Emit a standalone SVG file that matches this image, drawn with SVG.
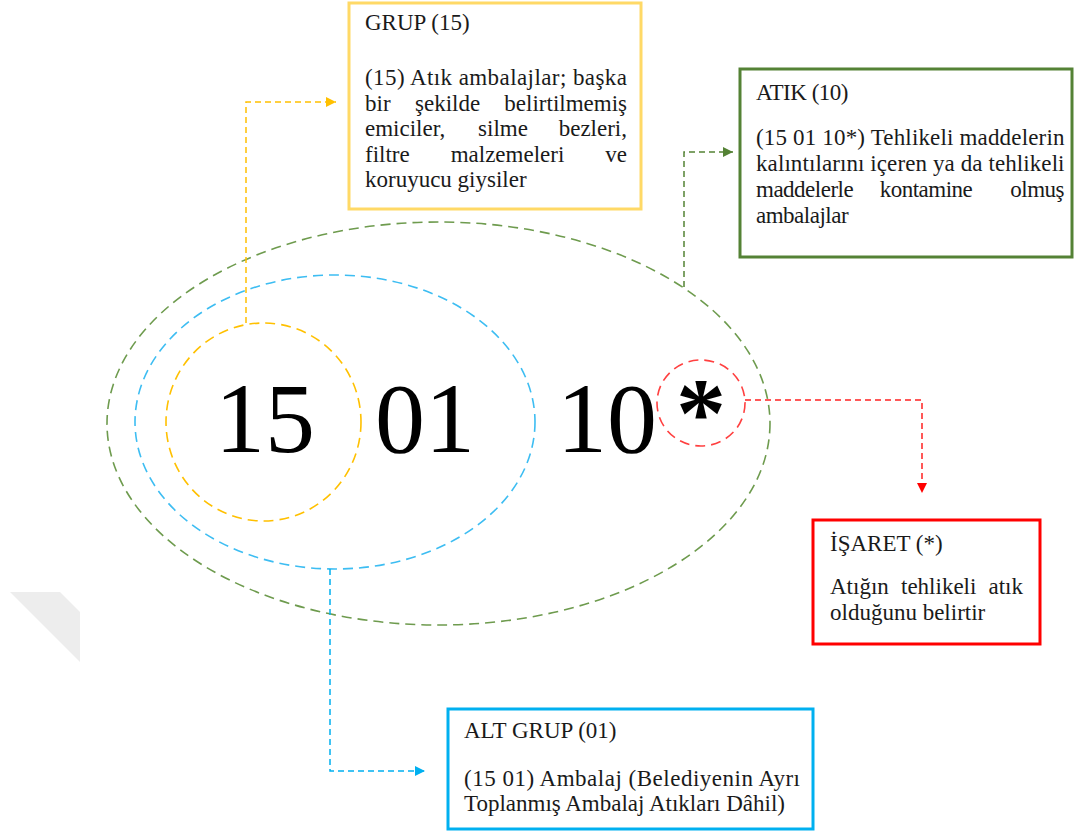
<svg xmlns="http://www.w3.org/2000/svg" width="1076" height="834" viewBox="0 0 1076 834">
<style>
  .t { font-family: "Liberation Serif", "Times New Roman", serif; font-size: 23px; fill: #1a1a1a; }
  .c { letter-spacing: -0.5px; }
  .num { font-family: "Liberation Serif", "Times New Roman", serif; font-size: 100px; fill: #000; text-anchor: middle; }
  .box { fill: #fff; }
  .ell { fill: none; stroke-width: 1.6; stroke-dasharray: 10 6; }
  .con { fill: none; stroke-width: 1.5; stroke-dasharray: 6 4; }
</style>
<defs>
  <marker id="aY" markerWidth="10" markerHeight="10" refX="10" refY="5" orient="auto" markerUnits="userSpaceOnUse"><path d="M0,0 L10,5 L0,10 Z" fill="#FFC000"/></marker>
  <marker id="aG" markerWidth="10" markerHeight="10" refX="10" refY="5" orient="auto" markerUnits="userSpaceOnUse"><path d="M0,0 L10,5 L0,10 Z" fill="#548235"/></marker>
  <marker id="aR" markerWidth="10" markerHeight="10" refX="10" refY="5" orient="auto" markerUnits="userSpaceOnUse"><path d="M0,0 L10,5 L0,10 Z" fill="#FF0000"/></marker>
  <marker id="aB" markerWidth="10" markerHeight="10" refX="10" refY="5" orient="auto" markerUnits="userSpaceOnUse"><path d="M0,0 L10,5 L0,10 Z" fill="#00B0F0"/></marker>
</defs>
<rect width="1076" height="834" fill="#fff"/>
<polygon points="10,592 60,592 80,612 80,662" fill="#ededed"/>

<g id="code">
  <ellipse class="ell" cx="438.5" cy="423.5" rx="331.5" ry="201.5" stroke="#6E9B4E"/>
  <ellipse class="ell" cx="335" cy="422" rx="200" ry="147" stroke="#3DBDF2"/>
  <ellipse class="ell" cx="263.5" cy="422" rx="97.5" ry="99" stroke="#FFC000"/>
  <ellipse class="ell" cx="701" cy="403" rx="44" ry="43" stroke="#FF4040"/>
  <text class="num" x="265" y="452">15</text>
  <text class="num" x="425" y="452">01</text>
  <text class="num" x="607" y="452">10</text>
  <text class="num" x="701" y="446" font-size="88" font-weight="bold">*</text>
</g>

<g id="connectors">
  <path class="con" d="M246,323 V102 H336" stroke="#FFC000" marker-end="url(#aY)"/>
  <path class="con" d="M684,287 V152 H733" stroke="#548235" marker-end="url(#aG)"/>
  <path class="con" d="M745,400 H922 V493" stroke="#FF2020" marker-end="url(#aR)"/>
  <path class="con" d="M330,569 V771 H425" stroke="#00B0F0" marker-end="url(#aB)"/>
</g>

<g id="grup">
  <rect class="box" x="349" y="3" width="292" height="206" stroke="#FFD966" stroke-width="3"/>
  <text class="t" x="365" y="30">GRUP (15)</text>
  <text class="t" x="365" y="85" textLength="262" lengthAdjust="spacing">(15) Atık ambalajlar; başka</text>
  <text class="t" y="110.5"><tspan x="365">bir</tspan><tspan x="447.6" text-anchor="middle">şekilde</tspan><tspan x="627" text-anchor="end">belirtilmemiş</tspan></text>
  <text class="t" y="136"><tspan x="365">emiciler,</tspan><tspan x="503" text-anchor="middle">silme</tspan><tspan x="627" text-anchor="end">bezleri,</tspan></text>
  <text class="t" y="161.5"><tspan x="365">filtre</tspan><tspan x="507.5" text-anchor="middle">malzemeleri</tspan><tspan x="627" text-anchor="end">ve</tspan></text>
  <text class="t" x="365" y="187">koruyucu giysiler</text>
</g>

<g id="atik">
  <rect class="box" x="740" y="69" width="332" height="188" stroke="#548235" stroke-width="3"/>
  <text class="t c" x="756" y="100">ATIK (10)</text>
  <text class="t c" x="756" y="145" textLength="308" lengthAdjust="spacing">(15 01 10*) Tehlikeli maddelerin</text>
  <text class="t c" x="756" y="171" textLength="308" lengthAdjust="spacing">kalıntılarını içeren ya da tehlikeli</text>
  <text class="t c" y="197"><tspan x="756">maddelerle</tspan><tspan x="926" text-anchor="middle">kontamine</tspan><tspan x="1064" text-anchor="end">olmuş</tspan></text>
  <text class="t c" x="756" y="223">ambalajlar</text>
</g>

<g id="isaret">
  <rect class="box" x="813" y="520" width="227" height="124" stroke="#FF0000" stroke-width="3"/>
  <text class="t" x="830" y="551">İŞARET (*)</text>
  <text class="t" y="594"><tspan x="830">Atığın</tspan><tspan x="938.7" text-anchor="middle">tehlikeli</tspan><tspan x="1023" text-anchor="end">atık</tspan></text>
  <text class="t" x="830" y="620">olduğunu belirtir</text>
</g>

<g id="altgrup">
  <rect class="box" x="448" y="709" width="365" height="120" stroke="#00B0F0" stroke-width="3"/>
  <text class="t" x="464" y="738">ALT GRUP (01)</text>
  <text class="t" x="464" y="786" textLength="336" lengthAdjust="spacing">(15 01) Ambalaj (Belediyenin Ayrı</text>
  <text class="t" x="464" y="811">Toplanmış Ambalaj Atıkları Dâhil)</text>
</g>
</svg>
